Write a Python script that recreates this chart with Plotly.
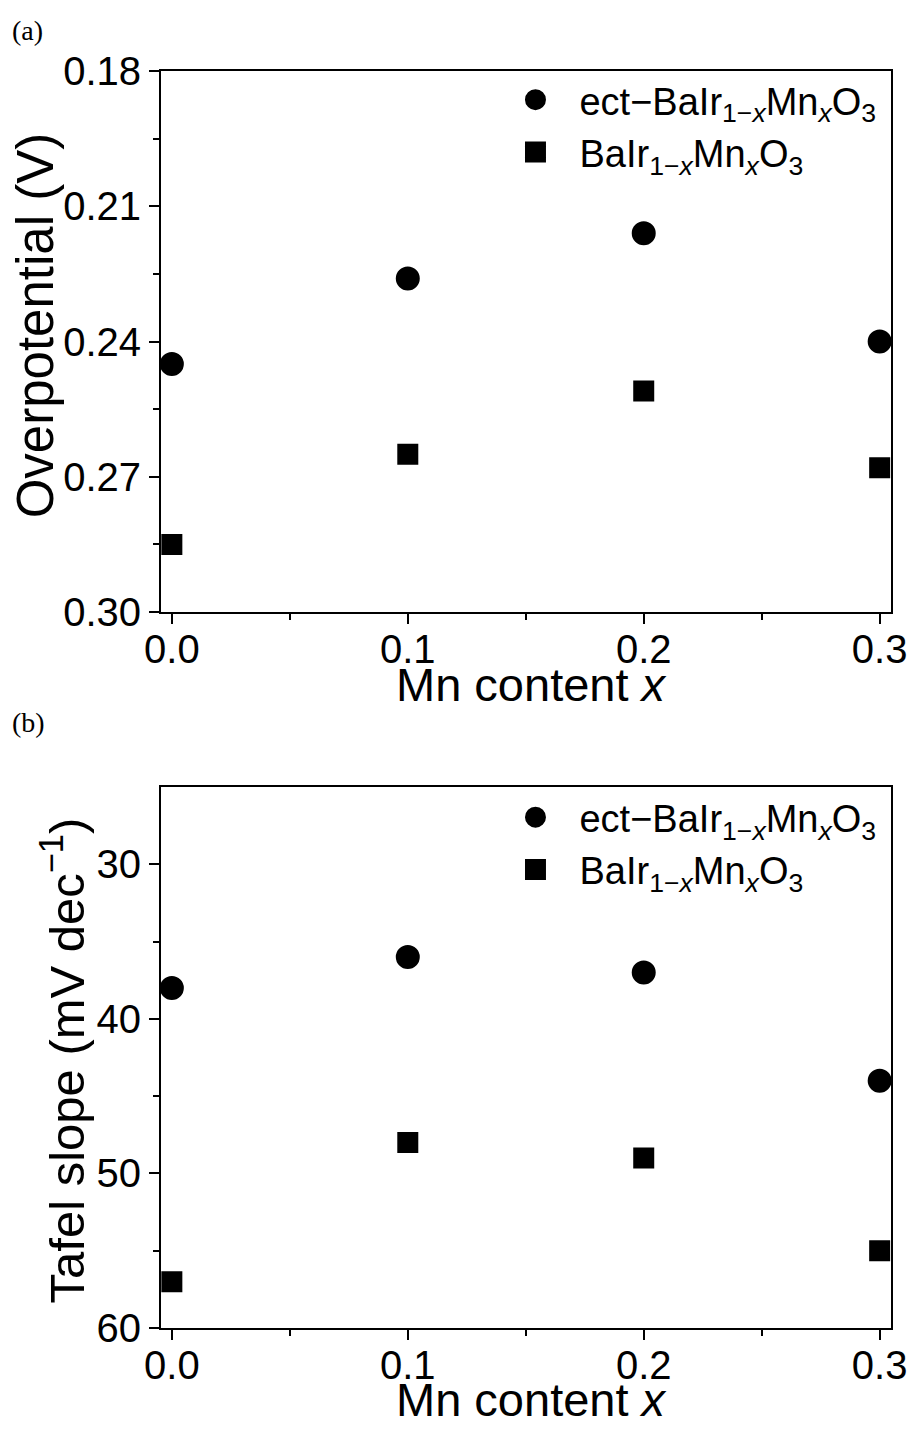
import plotly.graph_objects as go

x_vals = [0.0, 0.1, 0.2, 0.3]
overpot_ect = [0.245, 0.226, 0.216, 0.240]
overpot_bulk = [0.285, 0.265, 0.251, 0.268]
tafel_ect = [38, 36, 37, 44]
tafel_bulk = [57, 48, 49, 55]

x_ticks = [0.0, 0.1, 0.2, 0.3]
x_ticktext = ["0.0", "0.1", "0.2", "0.3"]
x_minor = [0.05, 0.15, 0.25]
y1_ticks = [0.18, 0.21, 0.24, 0.27, 0.30]
y1_ticktext = ["0.18", "0.21", "0.24", "0.27", "0.30"]
y1_minor = [0.195, 0.225, 0.255, 0.285]
y2_ticks = [30, 40, 50, 60]
y2_minor = [35, 45, 55]

name_ect = "ect−BaIr<sub>1−<i>x</i></sub>Mn<sub><i>x</i></sub>O<sub>3</sub>"
name_bulk = "BaIr<sub>1−<i>x</i></sub>Mn<sub><i>x</i></sub>O<sub>3</sub>"

FONT = "Liberation Sans, Arial, sans-serif"
SERIF = "Liberation Serif, Times New Roman, serif"

circ = dict(symbol="circle", size=19, color="black", line=dict(width=5, color="black"))
sq = dict(symbol="square", size=16, color="black", line=dict(width=5, color="black"))

fig = go.Figure()

fig.add_trace(go.Scatter(x=x_vals, y=overpot_ect, mode="markers", name=name_ect, marker=circ,
                         xaxis="x", yaxis="y", legend="legend", cliponaxis=False))
fig.add_trace(go.Scatter(x=x_vals, y=overpot_bulk, mode="markers", name=name_bulk, marker=sq,
                         xaxis="x", yaxis="y", legend="legend", cliponaxis=False))
fig.add_trace(go.Scatter(x=x_vals, y=tafel_ect, mode="markers", name=name_ect, marker=circ,
                         xaxis="x2", yaxis="y2", legend="legend2", cliponaxis=False))
fig.add_trace(go.Scatter(x=x_vals, y=tafel_bulk, mode="markers", name=name_bulk, marker=sq,
                         xaxis="x2", yaxis="y2", legend="legend2", cliponaxis=False))

axis_common = dict(showline=True, linecolor="black", linewidth=2, mirror=True,
                   ticks="outside", ticklen=10, tickwidth=2, tickcolor="black",
                   showgrid=False, zeroline=False,
                   tickfont=dict(family=FONT, size=40, color="black"))
minor_common = dict(ticklen=6, tickwidth=2, tickcolor="black", ticks="outside")

xcommon = dict(axis_common, range=[-0.0046, 0.3048], tickvals=x_ticks, ticktext=x_ticktext,
               ticklabelstandoff=-9, minor=dict(minor_common, tickvals=x_minor))

dom_a = [0.5696, 1.0]
dom_b = [0.0, 0.4304]

fig.update_layout(
    xaxis=dict(xcommon, domain=[0, 1], anchor="y"),
    xaxis2=dict(xcommon, domain=[0, 1], anchor="y2"),
    yaxis=dict(axis_common, domain=dom_a, anchor="x", range=[0.30, 0.18],
               tickvals=y1_ticks, ticktext=y1_ticktext,
               minor=dict(minor_common, tickvals=y1_minor)),
    yaxis2=dict(axis_common, domain=dom_b, anchor="x2", range=[60, 25],
                tickvals=y2_ticks, minor=dict(minor_common, tickvals=y2_minor)),
)

TITLE_FONT = dict(family=FONT, size=47, color="black")

fig.update_layout(
    width=911, height=1421,
    margin=dict(l=153, r=17, t=63, b=101),
    paper_bgcolor="white", plot_bgcolor="white",
    showlegend=True,
    legend=dict(x=0.4527, y=1.002, xanchor="left", yanchor="top", bgcolor="rgba(0,0,0,0)",
                itemwidth=78,
                font=dict(family=FONT, size=38, color="black"), tracegroupgap=0),
    legend2=dict(x=0.4527, y=0.4312, xanchor="left", yanchor="top", bgcolor="rgba(0,0,0,0)",
                 itemwidth=78,
                 font=dict(family=FONT, size=38, color="black"), tracegroupgap=0),
    annotations=[
        dict(text="(a)", xref="paper", yref="paper", x=-0.2065, y=1.0326, xanchor="left",
             yanchor="middle", showarrow=False, font=dict(family=SERIF, size=28, color="black")),
        dict(text="(b)", xref="paper", yref="paper", x=-0.2065, y=0.4821, xanchor="left",
             yanchor="middle", showarrow=False, font=dict(family=SERIF, size=28, color="black")),
        dict(text="Mn content <i>x</i>", xref="paper", yref="paper", x=0.5074, y=0.5123,
             xanchor="center", yanchor="middle", showarrow=False, font=TITLE_FONT),
        dict(text="Mn content <i>x</i>", xref="paper", yref="paper", x=0.5074, y=-0.0565,
             xanchor="center", yanchor="middle", showarrow=False, font=TITLE_FONT),
        dict(text="Overpotential (V)", xref="paper", yref="paper", x=-0.172, y=0.798,
             xanchor="center", yanchor="middle", textangle=-90, showarrow=False,
             font=dict(family=FONT, size=51, color="black")),
        dict(text="Tafel slope (mV dec<sup>−1</sup>)", xref="paper", yref="paper", x=-0.1336,
             y=0.2132, xanchor="center", yanchor="middle", textangle=-90, showarrow=False,
             font=dict(family=FONT, size=49, color="black")),
    ],
)

fig.write_html("out.html")
